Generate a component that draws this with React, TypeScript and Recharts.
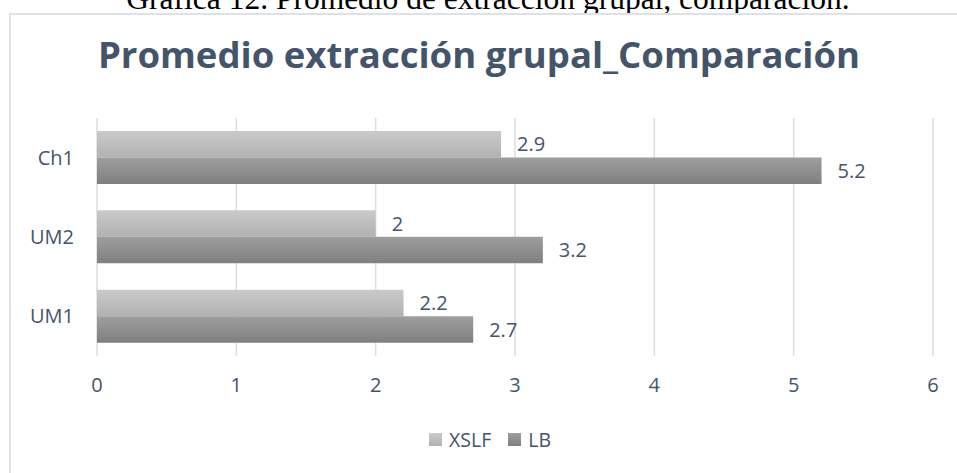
import React from 'react';
import {
  BarChart,
  Bar,
  XAxis,
  YAxis,
  CartesianGrid,
  Legend,
  LabelList,
} from 'recharts';

const categories = ['Ch1', 'UM2', 'UM1'];
const xslfValues = [2.9, 2, 2.2];
const lbValues = [5.2, 3.2, 2.7];
const xTicks = [0, 1, 2, 3, 4, 5, 6];
const seriesNames = ['XSLF', 'LB'];

const data = categories.map((name, i) => ({
  name,
  XSLF: xslfValues[i],
  LB: lbValues[i],
}));

const textColor = '#44546a';
const swatch: Record<string, string> = {
  XSLF: 'linear-gradient(#cacaca, #b1b1b1)',
  LB: 'linear-gradient(#9e9e9e, #7f7f7f)',
};

function LegendBox() {
  return (
    <div
      style={{
        height: 24,
        display: 'flex',
        justifyContent: 'center',
        alignItems: 'center',
        fontFamily: '"Open Sans", sans-serif',
        fontSize: 19.5,
        color: textColor,
        paddingLeft: 64,
      }}
    >
      {seriesNames.map((s) => (
        <span
          key={s}
          style={{ display: 'flex', alignItems: 'center', marginRight: 17 }}
        >
          <span
            style={{
              width: 13,
              height: 13,
              background: swatch[s],
              marginRight: 7,
              display: 'inline-block',
            }}
          />
          {s}
        </span>
      ))}
    </div>
  );
}

export default function App() {
  return (
    <div
      style={{
        position: 'absolute',
        left: 0,
        top: 0,
        width: 957,
        height: 473,
        overflow: 'hidden',
        background: '#fff',
      }}
    >
      <div
        style={{
          position: 'absolute',
          left: 0,
          top: -19,
          width: 976,
          textAlign: 'center',
          fontFamily: '"Liberation Serif", serif',
          fontSize: 31.5,
          color: '#000',
          whiteSpace: 'nowrap',
        }}
      >
        Gráfica 12. Promedio de extracción grupal, comparación.
      </div>
      <div
        style={{
          position: 'absolute',
          left: 9,
          top: 13,
          width: 980,
          height: 480,
          background: '#fff',
          borderLeft: '2px solid #dde2e8',
          borderTop: '2px solid #dde2e8',
        }}
      />
      <div
        style={{
          position: 'absolute',
          left: 0,
          top: 29,
          width: 958,
          textAlign: 'center',
          fontFamily: '"Open Sans", sans-serif',
          fontWeight: 700,
          fontSize: 36.5,
          color: textColor,
          whiteSpace: 'nowrap',
        }}
      >
        Promedio extracción grupal_Comparación
      </div>
      <div style={{ position: 'absolute', left: 0, top: 0 }}>
        <BarChart
          width={957}
          height={473}
          data={data}
          layout="vertical"
          margin={{ top: 118, right: 24, left: 0, bottom: 22 }}
          barGap={0}
          barSize={26.5}
          style={{ fontFamily: '"Open Sans", sans-serif' }}
        >
          <defs>
            <linearGradient id="gradXslf" x1="0" y1="0" x2="0" y2="1">
              <stop offset="0%" stopColor="#cacaca" />
              <stop offset="100%" stopColor="#b1b1b1" />
            </linearGradient>
            <linearGradient id="gradLb" x1="0" y1="0" x2="0" y2="1">
              <stop offset="0%" stopColor="#9e9e9e" />
              <stop offset="100%" stopColor="#7f7f7f" />
            </linearGradient>
          </defs>
          <CartesianGrid horizontal={false} stroke="#d9dee5" strokeWidth={1.5} />
          <XAxis
            type="number"
            domain={[0, 6]}
            ticks={xTicks}
            axisLine={false}
            tickLine={false}
            tickMargin={16}
            height={71}
            tick={{ fontSize: 20, fill: textColor }}
          />
          <YAxis
            type="category"
            dataKey="name"
            width={97}
            axisLine={false}
            tickLine={false}
            tickMargin={17}
            tick={{ fontSize: 20, fill: textColor }}
          />
          <Legend verticalAlign="bottom" align="center" content={() => <LegendBox />} />
          <Bar dataKey="XSLF" fill="url(#gradXslf)" isAnimationActive={false}>
            <LabelList
              dataKey="XSLF"
              position="right"
              offset={16}
              style={{ fontSize: 20, fill: textColor }}
            />
          </Bar>
          <Bar dataKey="LB" fill="url(#gradLb)" isAnimationActive={false}>
            <LabelList
              dataKey="LB"
              position="right"
              offset={16}
              style={{ fontSize: 20, fill: textColor }}
            />
          </Bar>
        </BarChart>
      </div>
    </div>
  );
}
